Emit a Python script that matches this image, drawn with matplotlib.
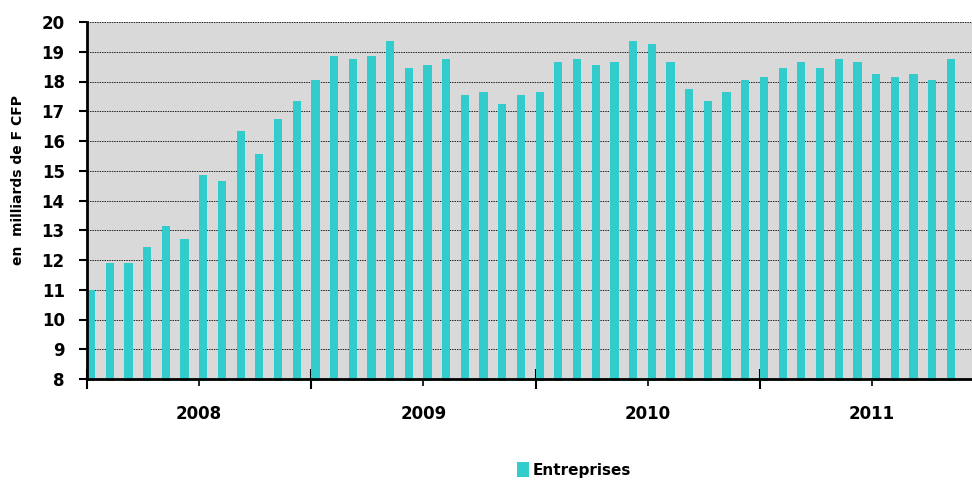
import matplotlib
matplotlib.use("Agg")
import matplotlib.pyplot as plt
from matplotlib.ticker import MultipleLocator, FixedLocator, NullFormatter, FixedFormatter

plt.rcParams['font.family'] = ['Liberation Sans Narrow', 'DejaVu Sans Condensed', 'DejaVu Sans']
plt.rcParams['font.weight'] = 'bold'

# monthly values, Dec 2007 -> Nov 2011 (en milliards de F CFP)
entreprises = [11.0, 11.9, 11.9, 12.45, 13.15, 12.7, 14.85, 14.65, 16.35, 15.55, 16.75, 17.35,
               18.05, 18.85, 18.75, 18.85, 19.35, 18.45, 18.55, 18.75, 17.55, 17.65, 17.25, 17.55,
               17.65, 18.65, 18.75, 18.55, 18.65, 19.35, 19.25, 18.65, 17.75, 17.35, 17.65, 18.05,
               18.15, 18.45, 18.65, 18.45, 18.75, 18.65, 18.25, 18.15, 18.25, 18.05, 18.75]
years = ['2008', '2009', '2010', '2011']
year_starts = [0, 12, 24, 36]
year_mids = [6, 18, 30, 42]

fig = plt.figure(figsize=(9.72, 4.82), dpi=100)
ax = fig.add_axes([87 / 972, 1 - 379 / 482, 1 - 87 / 972, (379 - 22) / 482])
ax.set_facecolor('#D9D9D9')

x = list(range(len(entreprises)))
bars = ax.bar(x, [v - 7.93 for v in entreprises], bottom=7.93, width=0.44, align='edge',
              color='#33CCCC', zorder=3, label='Entreprises')
for b in bars:
    b.set_clip_on(False)

ax.set_ylim(8, 20)
ax.set_xlim(0, (972 - 87) / 18.69)
ax.yaxis.set_major_locator(MultipleLocator(1))
ax.grid(axis='y', color='#222222', linestyle=(0, (1.5, 1)), linewidth=0.7, zorder=1)

for s in ['top', 'right']:
    ax.spines[s].set_visible(False)
ax.spines['left'].set_linewidth(2)
ax.spines['bottom'].set_linewidth(2)
ax.spines['left'].set_zorder(4)
ax.spines['bottom'].set_zorder(4)

ax.tick_params(axis='y', direction='out', length=6, width=1.5, labelsize=12, pad=10)
ax.xaxis.set_major_locator(FixedLocator(year_starts))
ax.xaxis.set_major_formatter(NullFormatter())
ax.xaxis.set_minor_locator(FixedLocator(year_mids))
ax.xaxis.set_minor_formatter(FixedFormatter(years))
ax.tick_params(axis='x', which='major', direction='inout', length=14, width=1.5)
ax.tick_params(axis='x', which='minor', direction='out', length=5, width=1.2,
               labelsize=12, pad=14)
for lab in ax.get_yticklabels() + ax.xaxis.get_minorticklabels():
    lab.set_fontweight('bold')

fig.text(18 / 972, 1 - 180 / 482, 'en  milliards de F CFP', rotation=90,
         ha='center', va='center', fontsize=10, fontweight='bold')

fig.legend(handles=[bars], labels=['Entreprises'], loc='center',
           bbox_to_anchor=(574 / 972, 1 - 470 / 482), frameon=False,
           handlelength=0.8, handleheight=1.1, handletextpad=0.2,
           prop={'size': 11, 'weight': 'bold'})

fig.savefig('out.png', dpi=100)
